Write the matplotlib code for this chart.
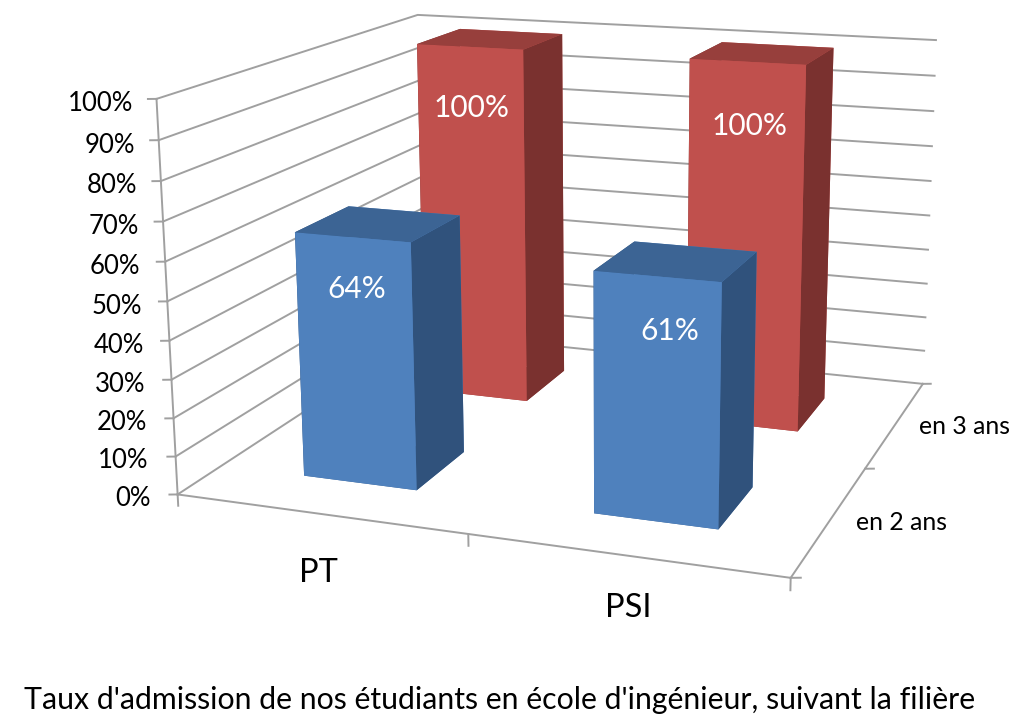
import matplotlib
matplotlib.use('Agg')
import matplotlib.pyplot as plt
from mpl_toolkits.mplot3d import proj3d

categories = ['PT', 'PSI']
series = ['en 2 ans', 'en 3 ans']
values_2ans = [64, 61]
values_3ans = [100, 100]
ztick_values = list(range(0, 101, 10))

GRID = '#a0a0a0'
BLUE = {'front': '#4f81bd', 'top': '#3c6494', 'side': '#30527c'}
RED = {'front': '#c0504d', 'top': '#973f3c', 'side': '#7a312f'}

plt.rcParams['font.family'] = ['Lato', 'DejaVu Sans']
fig = plt.figure(figsize=(10.24, 7.27), dpi=100)
W = 883.7
ax = fig.add_axes([123.1 / 1024, 18.0 / 727, W / 1024, W / 727], projection='3d', computed_zorder=False)
ax.view_init(14.38, -69.82, 0.23)
ax.set_proj_type('persp', focal_length=0.448)
ax.set_box_aspect((1.573, 1.509, 1))
ax.set_xlim(0, 2, view_margin=0)
ax.set_ylim(0, 2, view_margin=0)
ax.set_zlim(0, 100, view_margin=0)
ax.set_axis_off()


def line(xs, ys, zs):
    ax.plot(xs, ys, zs, color=GRID, lw=1.4, zorder=1)


def label(x, y, z, s, **kw):
    # text at a projected 3d point
    px, py, _ = proj3d.proj_transform(x, y, z, ax.get_proj())
    ax.text2D(px, py, s, zorder=10, **kw)


# walls and floor edges
for t in ztick_values:
    line([0, 0, 2], [0, 2, 2], [t, t, t])
line([0, 0], [0, 0], [0, 100])
line([0, 2, 2], [0, 0, 2], [0, 0, 0])

# ticks
for t in ztick_values:
    line([0, -0.024], [0, -0.01], [t, t])
for i in range(3):
    line([i, i], [0, 0], [0, -3])
    line([2, 2.027], [i, i + 0.011], [0, 0])


def draw_bar(xpos, ypos, height, col, z):
    faces = [col['top'], col['top'], col['front'], col['front'], col['side'], col['side']]
    ax.bar3d(xpos, ypos, 0, 0.4, 0.4, height, color=faces, shade=False, zorder=z)


for i in range(2):
    draw_bar(i + 0.3, 1.3, values_3ans[i], RED, 2 + i)
for i in range(2):
    draw_bar(i + 0.3, 0.3, values_2ans[i], BLUE, 4 + i)

# data labels
blue_label_x = [0.51, 1.54]
red_label_x = [0.505, 1.51]
for i in range(2):
    label(blue_label_x[i], 0.3, values_2ans[i] - 13, '%d%%' % values_2ans[i], color='white', fontsize=21.5,
          ha='center', va='center')
    label(red_label_x[i], 1.3, values_3ans[i] - 17, '%d%%' % values_3ans[i], color='white', fontsize=21.5,
          ha='center', va='center')

# axis labels
for t in ztick_values:
    label(-0.08 + 0.0002 * t, -0.035, t - 1, '%d%%' % t, fontsize=18.5, ha='right', va='center')
cat_label_x = [0.71, 1.63]
cat_label_y = [-0.44, -0.37]
for i, name in enumerate(categories):
    label(cat_label_x[i], cat_label_y[i], 0, name, fontsize=23.5, ha='center', va='center')
for j, name in enumerate(series):
    label(2.08, j + 0.5, 0, name, fontsize=17.8, ha='left', va='center')

fig.text(499.5 / 1024, 1 - 700 / 727, "Taux d'admission de nos étudiants en école d'ingénieur, suivant la filière",
         fontsize=21.8, ha='center', va='center')

fig.savefig('out.png')
